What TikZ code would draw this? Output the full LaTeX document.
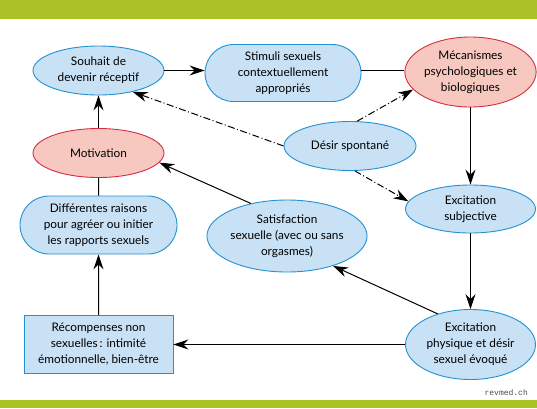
\documentclass[tikz,border=0pt]{standalone}
\usepackage{fontspec}
\setmainfont{Lato}
\setmonofont{Liberation Mono}
\usetikzlibrary{arrows.meta,shapes.geometric,shapes.misc}
\definecolor{barg}{RGB}{170,194,38}
\definecolor{bfill}{RGB}{200,225,245}
\definecolor{bdraw}{RGB}{35,145,210}
\definecolor{rfill}{RGB}{246,200,192}
\definecolor{rdraw}{RGB}{215,45,65}
\tikzset{
  lbl/.style={align=center,font=\fontsize{11.8}{16}\selectfont,inner sep=0pt,text=black},
  bell/.style={lbl,ellipse,draw=bdraw,fill=bfill,line width=0.9pt},
  rell/.style={lbl,ellipse,draw=rdraw,fill=rfill,line width=0.9pt},
  bround/.style={lbl,rounded rectangle,draw=bdraw,fill=bfill,line width=0.9pt},
  bbox/.style={lbl,rectangle,draw=bdraw,fill=bfill,line width=0.9pt},
  conn/.style={line width=1pt,black},
  arr/.style={conn,-{Stealth[length=15pt,width=10pt,inset=5pt]}},
  dd/.style={arr,dash pattern=on 7pt off 2.5pt on 1pt off 2.5pt},
}
\begin{document}
\begin{tikzpicture}[x=1pt,y=-1pt]
\useasboundingbox (0,0) rectangle (537,408);
\fill[barg] (0,0) rectangle (537,19);
\fill[barg] (0,400) rectangle (537,408);

\node[bell,minimum width=131pt,minimum height=49pt] (souhait) at (98.5,70.5) {Souhait de\\devenir réceptif};
\node[bround,minimum width=156pt,minimum height=57pt] (stimuli) at (283,73) {Stimuli sexuels\\contextuellement\\appropriés};
\node[rell,minimum width=130pt,minimum height=70pt] (meca) at (470.5,72) {Mécanismes\\psychologiques et\\biologiques};
\node[rell,minimum width=131pt,minimum height=49pt] (motiv) at (98.5,153) {Motivation};
\node[bell,minimum width=132pt,minimum height=49pt] (desir) at (350,146) {Désir spontané};
\node[bell,minimum width=130pt,minimum height=48pt] (excsub) at (470.5,209) {Excitation\\subjective};
\node[bround,minimum width=157pt,minimum height=58pt] (raisons) at (98.5,225) {Différentes raisons\\pour agréer ou initier\\les rapports sexuels};
\node[bell,minimum width=131pt,minimum height=72pt] (satis) at (287,236) {Satisfaction\\sexuelle (avec ou sans\\orgasmes)};
\node[bbox,minimum width=149pt,minimum height=58pt] (recomp) at (98.5,344.5) {Récompenses non\\sexuelles\,: intimité\\émotionnelle, bien-être};
\node[bell,minimum width=130pt,minimum height=70pt] (excphys) at (470.5,344.5) {Excitation\\physique et désir\\sexuel évoqué};
\node[font=\ttfamily\fontsize{8}{9}\selectfont,text=black!70,anchor=east,inner sep=0pt] (src) at (528,393) {revmed.ch};

\draw[arr] (souhait.east) -- (souhait.east -| stimuli.west);
\draw[conn] (stimuli.east |- souhait.east) -- (meca.west |- souhait.east);
\draw[arr] (meca) -- (excsub);
\draw[arr] (excsub) -- (excphys);
\draw[arr] (excphys.137) -- (satis.-33);
\draw[arr] (excphys) -- (recomp);
\draw[arr] (recomp) -- (raisons);
\draw[conn] (raisons) -- (motiv);
\draw[arr] (motiv) -- (souhait);
\draw[arr] (satis.138) -- (motiv.-9);
\draw[dd] (desir.west) -- (souhait.-32);
\draw[dd] (desir.74) -- (meca.197);
\draw[dd] (desir.-79) -- (excsub.173);
\end{tikzpicture}
\end{document}
